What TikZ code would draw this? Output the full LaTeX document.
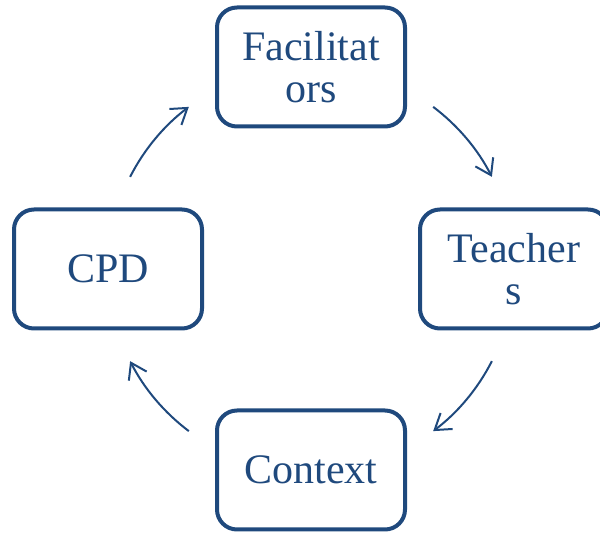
\documentclass[tikz,border=0pt]{standalone}
\usepackage{fontspec}
\setmainfont{Liberation Serif}
\usetikzlibrary{positioning, arrows.meta}

\definecolor{cycblue}{HTML}{1F497D}

\begin{document}
\begin{tikzpicture}[x=1pt,y=1pt,>={Straight Barb[length=15pt,width=20pt]},
  box/.style={draw=cycblue, line width=4pt, rounded corners=20pt, minimum width=188pt, minimum height=119pt, align=center, text=cycblue, font=\fontsize{42}{42}\selectfont},
  cyc/.style={->, draw=cycblue, line width=2pt}]
\useasboundingbox (0,0) rectangle (600,535);
\node (fac) [box] at (311,468) {Facilitat\\ors};
\node (tea) [box, below right=79pt and 11pt of fac] {Teacher\\s};
\node (ctx) [box, below=280pt of fac] {Context};
\node (cpd) [box, below left=79pt and 11pt of fac] {CPD};
\coordinate (hub) at (fac |- cpd);
% arcs round the hub, clockwise
\foreach \s/\e in {53/27, -27/-53, -127/-153, 153/127}
  \draw [cyc] ([shift={(\s:203)}]hub) arc[start angle=\s, end angle=\e, radius=203];
\end{tikzpicture}
\end{document}
